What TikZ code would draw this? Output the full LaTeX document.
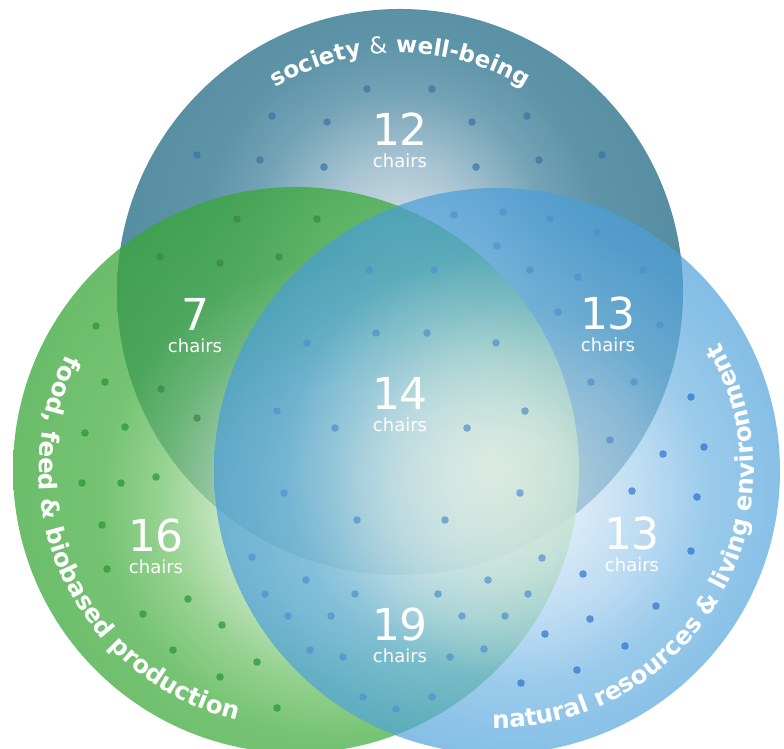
\documentclass[tikz,border=0pt]{standalone}
\usepackage{fontspec}
\setmainfont{DejaVu Sans}
\usepackage{tikz}
\usetikzlibrary{positioning,decorations.text,fadings}
\definecolor{toplight}{RGB}{214,226,232}
\definecolor{topa}{RGB}{168,196,210}
\definecolor{topb}{RGB}{114,162,181}
\definecolor{topc}{RGB}{94,148,168}
\definecolor{topedge}{RGB}{82,136,156}
\definecolor{foodlight}{RGB}{202,230,195}
\definecolor{fooda}{RGB}{182,222,175}
\definecolor{foodb}{RGB}{115,195,108}
\definecolor{foodc}{RGB}{72,175,68}
\definecolor{foodedge}{RGB}{55,166,55}
\definecolor{natlight}{RGB}{212,230,246}
\definecolor{nata}{RGB}{202,226,244}
\definecolor{natb}{RGB}{158,203,236}
\definecolor{natc}{RGB}{112,181,227}
\definecolor{natd}{RGB}{82,163,219}
\definecolor{natedge}{RGB}{72,156,216}
\definecolor{glowc}{RGB}{228,240,230}
\definecolor{topdotc}{RGB}{60,115,165}
\definecolor{mixdotc}{RGB}{55,135,70}
\definecolor{fooddotc}{RGB}{40,150,50}
\definecolor{middotc}{RGB}{80,145,205}
\definecolor{natdotc}{RGB}{45,115,205}
\pgfdeclareradialshading{topshade}{\pgfpointorigin}{color(0bp)=(toplight); color(5.9bp)=(topa); color(11bp)=(topb); color(14.7bp)=(topc); color(25bp)=(topedge); color(50bp)=(topedge)}
\pgfdeclareradialshading{foodshade}{\pgfpointorigin}{color(0bp)=(foodlight); color(4.4bp)=(foodlight); color(8.5bp)=(fooda); color(13.2bp)=(foodb); color(17.6bp)=(foodc); color(25bp)=(foodedge); color(50bp)=(foodedge)}
\pgfdeclareradialshading{natshade}{\pgfpointorigin}{color(0bp)=(natlight); color(4.5bp)=(nata); color(10.2bp)=(natb); color(14.7bp)=(natc); color(20.8bp)=(natd); color(25bp)=(natedge); color(50bp)=(natedge)}
\tikzfading[name=glowfade, inner color=transparent!0, outer color=transparent!100]
\newcommand{\toplblfont}{\color{white}\fontsize{23}{23}\selectfont}
\newcommand{\lblfont}{\color{white}\fontsize{24.5}{24.5}\selectfont}
\tikzset{
  num/.style={text=white, inner sep=0pt, anchor=base, font=\fontsize{44}{44}\selectfont},
  chairs/.style={text=white, inner sep=0pt, font=\fontsize{18}{18}\selectfont},
  dot/.style={opacity=0.7}
}

\begin{document}
\begin{tikzpicture}[x=1pt,y=1pt]
    \useasboundingbox (0,0) rectangle (784,749);
    \coordinate (ctop) at (400,457);
    \coordinate (cfood) at (296,279);
    \coordinate (cnat) at (497,278);

    \begin{scope}
        \clip (ctop) circle (283);
        \shade[shading=topshade] ([yshift=52]ctop) circle (340);
    \end{scope}
    \begin{scope}
        \clip (cfood) circle (283);
        \shade[shading=foodshade, opacity=0.75] ([shift={(44,-30)}]cfood) circle (340);
    \end{scope}
    \begin{scope}
        \clip (cnat) circle (283);
        \shade[shading=natshade, opacity=0.7] ([shift={(23,-24)}]cnat) circle (320);
    \end{scope}
    \begin{scope}
        \clip (cfood) circle (283);
        \fill[glowc, path fading=glowfade, opacity=0.8] (495,284) circle (210);
    \end{scope}

    \foreach \x/\y in {367/89,432/89,272/116,327/122,472/122,527/116,197/155,260/160,324/167,476/167,539/160,602/155}
        \fill[dot, topdotc] (\x,749-\y) circle (3.8);
    \foreach \x/\y in {237/219,317/219,160/257,220/263,279/257,161/389,197/418}
        \fill[dot, mixdotc] (\x,749-\y) circle (3.8);
    \foreach \x/\y in {96/326,105/382,85/433,125/427,156/477,82/483,121/483,102/525,107/569,188/599,143/614,222/625,173/650,257/662,220/677,277/708}
        \fill[dot, fooddotc] (\x,749-\y) circle (3.8);
    \foreach \x/\y in {369/270,434/270,307/343,376/333,427/333,496/343,277/411,335/428,467/428,525/411,284/493,357/520,445/520,520/493}
        \fill[dot, middotc] (\x,749-\y) circle (3.8);
    \foreach \x/\y in {454/215,503/212,550/219,597/232,497/246,530/270,578/277,643/270,558/312,660/325,591/382,634/382,610/440}
        \fill[dot, middotc] (\x,749-\y) circle (3.8);
    \foreach \x/\y in {691/397,704/447,663/454,632/491,697/497,691/551,583/574,656/606,590/619,545/634,625/646,577/670,521/683}
        \fill[dot, natdotc] (\x,749-\y) circle (3.8);
    \foreach \x/\y in {252/557,306/580,265/594,355/594,288/616,331/616,310/650,343/657,363/697,396/709,542/558,488/580,528/594,438/594,462/616,505/616,450/657,484/649,432/697}
        \fill[dot, middotc] (\x,749-\y) circle (3.8);

    \node[num] (n12) at (400,603) {12};
    \node[chairs, below=7pt of n12] (c12) {chairs};
    \node[num] (n7) at (195,418) {7};
    \node[chairs, below=7pt of n7] (c7) {chairs};
    \node[num] (n13a) at (608,419) {13};
    \node[chairs, below=7pt of n13a] (c13a) {chairs};
    \node[num] (n14) at (400,339) {14};
    \node[chairs, below=7pt of n14] (c14) {chairs};
    \node[num] (n16) at (156,197) {16};
    \node[chairs, below=7pt of n16] (c16) {chairs};
    \node[num] (n13b) at (632,199) {13};
    \node[chairs, below=7pt of n13b] (c13b) {chairs};
    \node[num] (n19) at (400,108) {19};
    \node[chairs, below=7pt of n19] (c19) {chairs};

    \path[decorate, decoration={text along path, text align=center,
        text={|\toplblfont\bfseries|society |\toplblfont|{\&}|\toplblfont\bfseries| well-being}}]
        ([shift={(150:239)}]ctop) arc[start angle=150, end angle=30, radius=239];
    \path[decorate, decoration={text along path, text align=center,
        text={|\lblfont\bfseries|food, feed {\&} biobased production}}]
        ([shift={(135:257)}]cfood) arc[start angle=135, end angle=275, radius=257];
    \path[decorate, decoration={text along path, text align=center,
        text={|\lblfont\bfseries|natural resources {\&} living environment}}]
        ([shift={(255:257)}]cnat) arc[start angle=255, end angle=404, radius=257];
\end{tikzpicture}
\end{document}
